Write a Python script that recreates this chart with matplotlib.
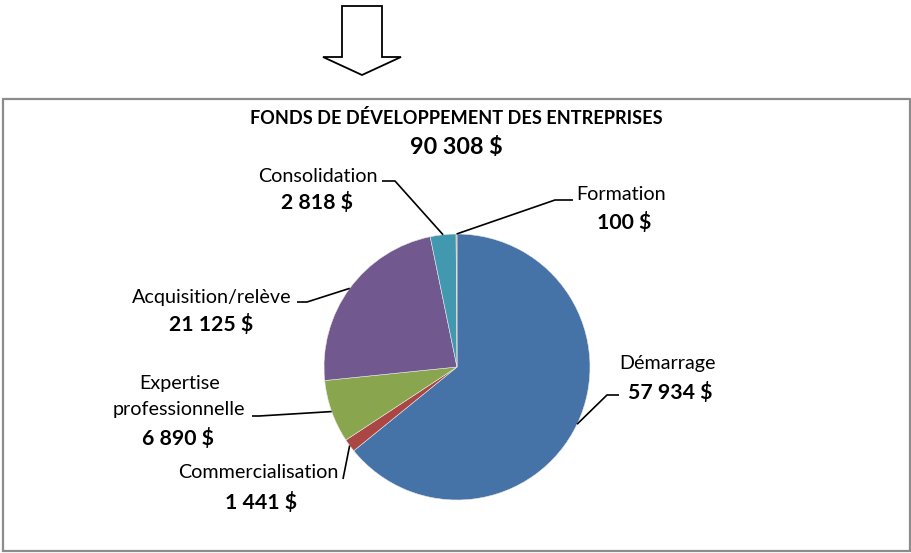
import numpy as np
import matplotlib
matplotlib.use("Agg")
import matplotlib.pyplot as plt
from matplotlib.patches import Polygon, Rectangle

# ---- data ----
categories = ["Démarrage", "Commercialisation", "Expertise\nprofessionnelle",
              "Acquisition/relève", "Consolidation", "Formation"]
values = [57934, 1441, 6890, 21125, 2818, 100]
value_labels = ["57 934 $", "1 441 $", "6 890 $", "21 125 $", "2 818 $", "100 $"]
title = "FONDS DE DÉVELOPPEMENT DES ENTREPRISES"
total_label = "90 308 $"
colors = ["#4572A7", "#AA4643", "#89A54E", "#71588F", "#4198AF", "#DB843D"]

W, H = 912, 553
plt.rcParams['font.family'] = ['Lato', 'DejaVu Sans']
fig = plt.figure(figsize=(W / 100, H / 100), dpi=100)
ax = fig.add_axes([0, 0, 1, 1])

def Y(y):  # image y (top-down) -> axes y
    return H - y

cx, cy, R = 457, Y(367), 133
wedges, _ = ax.pie(values, colors=colors, startangle=90, counterclock=False,
                   center=(cx, cy), radius=R, frame=True,
                   wedgeprops=dict(linewidth=0.4, edgecolor="#E8E8E8"))
ax.set_xlim(0, W)
ax.set_ylim(0, H)
ax.set_aspect('equal')
ax.axis('off')

# frame around chart
ax.add_patch(Rectangle((3, Y(551)), 907, 452, fill=False, edgecolor="#8C8C8C",
                       linewidth=1.6, zorder=0))

# block arrow at top
arrow = [(342, 6), (382, 6), (382, 57), (401, 57), (362, 75), (323, 57), (342, 57)]
ax.add_patch(Polygon([(x, Y(y)) for x, y in arrow], closed=True, facecolor="white",
                     edgecolor="black", linewidth=1.3))

# titles
ax.text(456, Y(118), title, ha="center", va="center", fontsize=13.1, fontweight="bold")
ax.text(456, Y(147), total_label, ha="center", va="center", fontsize=16.8, fontweight="bold")

# label layout: name line positions, value position, leader polyline start
layout = {
    0: dict(name=[(668, 364)], val=(670, 392), line=[(619, 395), (607, 395)]),
    1: dict(name=[(258, 473)], val=(261, 502), line=[(343, 479)]),
    2: dict(name=[(180, 383), (179, 410)], val=(178, 438), line=[(252, 416), (259, 416)]),
    3: dict(name=[(212, 297)], val=(211, 324), line=[(297, 302), (307, 302)]),
    4: dict(name=[(318, 176)], val=(317, 203), line=[(382, 181), (395, 181)]),
    5: dict(name=[(621, 194)], val=(624, 223), line=[(573, 200), (555, 200)]),
}

for i, w in enumerate(wedges):
    theta = np.deg2rad((w.theta1 + w.theta2) / 2)
    px, py = cx + R * np.cos(theta), cy + R * np.sin(theta)
    L = layout[i]
    for line_text, (tx, ty) in zip(categories[i].split("\n"), L["name"]):
        ax.text(tx, Y(ty), line_text, ha="center", va="center", fontsize=14.2)
    ax.text(L["val"][0], Y(L["val"][1]), value_labels[i], ha="center", va="center",
            fontsize=15.3, fontweight="bold")
    pts = [(x, Y(y)) for x, y in L["line"]] + [(px, py)]
    xs, ys = zip(*pts)
    ax.plot(xs, ys, color="black", linewidth=1.2, solid_capstyle="butt")

fig.savefig("out.png", dpi=100)
